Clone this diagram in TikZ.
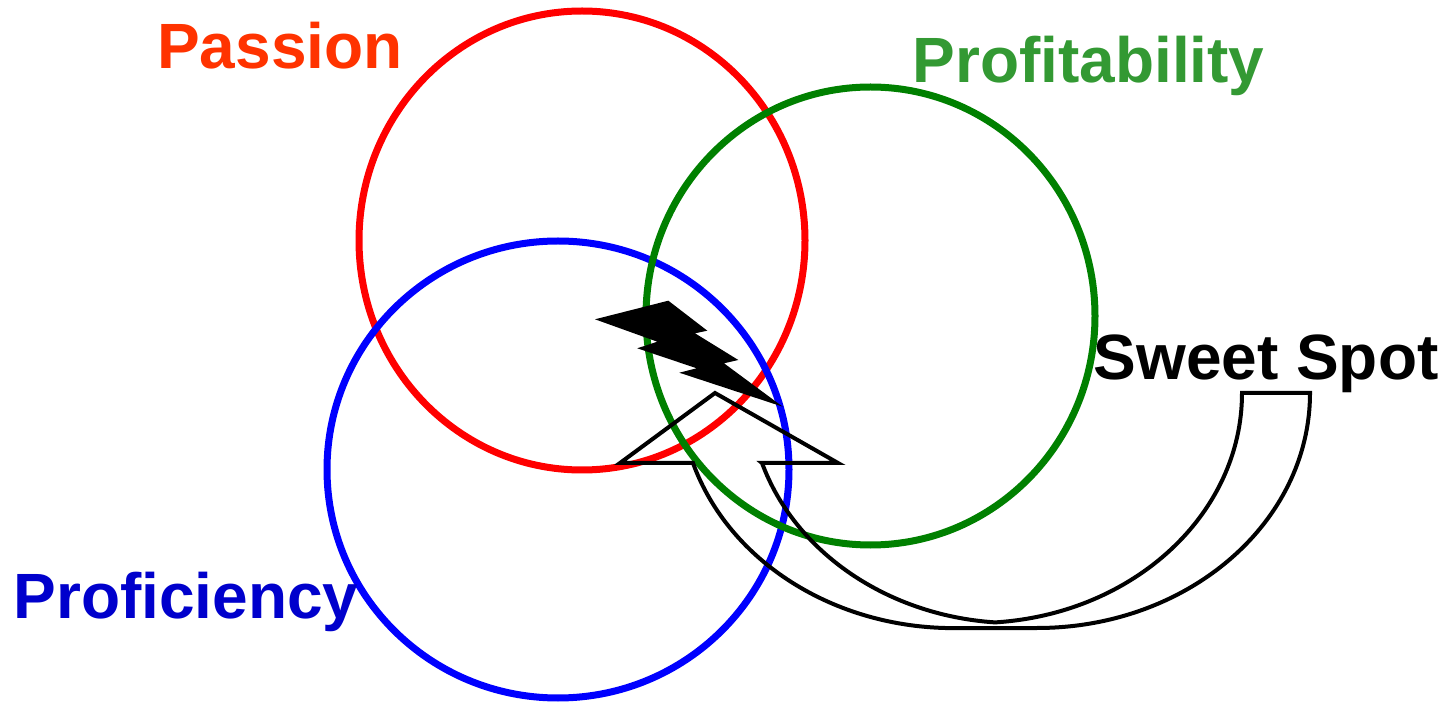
\documentclass[tikz,border=0pt]{standalone}
\usepackage{fontspec}
\setmainfont{Liberation Sans}
\begin{document}
\begin{tikzpicture}[x=1pt,y=1pt,
  ring/.style={line width=7pt},
  label/.style={inner sep=0pt,anchor=base,font=\fontsize{64}{70}\selectfont\bfseries},
  outline/.style={line width=4pt,line join=miter}]
\definecolor{passionc}{HTML}{FF3300}
\definecolor{profitc}{HTML}{339933}
\definecolor{profc}{HTML}{0000CC}
\definecolor{ringgreen}{HTML}{008000}
\useasboundingbox (0,0) rectangle (1454,702);

% the three overlapping circles
\draw[ring,red]       (582,461.5) ellipse [x radius=223pt,y radius=229.5pt];
\draw[ring,blue]      (558,232.5) ellipse [x radius=231pt,y radius=228.5pt];
\draw[ring,ringgreen] (870.5,386) ellipse [x radius=224.5pt,y radius=229pt];

% labels
\node[label,text=passionc] (passion) at (280,633) {Passion};
\node[label,text=profitc]  (profit)  at (1088.5,619) {Profitability};
\node[label,text=black]    (sweet)   at (1266,322) {Sweet Spot};
\node[label,text=profc]    (prof)    at (186,84) {Proficiency};

% lightning bolt in the centre
\fill[black] (595,382.7) -- (668.3,401.3) -- (707.3,371.3) -- (695,368.7)
  -- (738.3,342) -- (724,338.7) -- (782.7,295.3) -- (679.3,329.3)
  -- (696.7,333.7) -- (637.3,353.7) -- (657.3,360.3) -- cycle;

% curved up-arrow from the label to the centre
\draw[outline] (762,239) -- (838,239) -- (715,309) -- (620,239) -- (693,239)
  arc[start angle=197.3,end angle=270,x radius=273pt,y radius=235pt]
  -- (1037,74)
  arc[start angle=270,end angle=360,x radius=273pt,y radius=235pt]
  -- (1242,309)
  arc[start angle=360,end angle=274.1,x radius=266pt,y radius=230pt]
  arc[start angle=265.6,end angle=197.7,x radius=266pt,y radius=230pt]
  -- cycle;
\end{tikzpicture}
\end{document}
